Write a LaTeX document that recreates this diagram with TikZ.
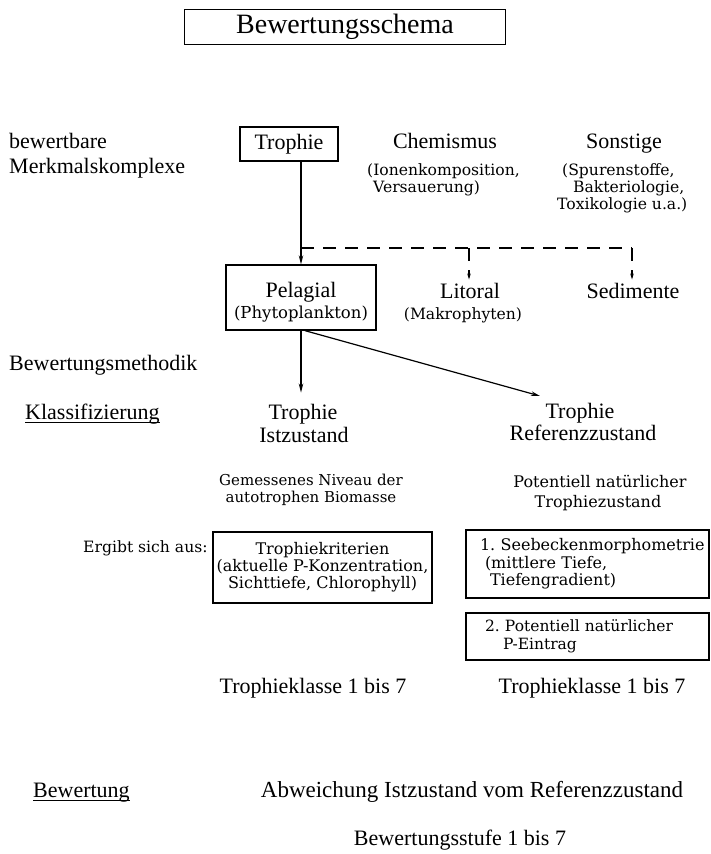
\documentclass[tikz,border=0pt]{standalone}
\usepackage{fontspec}
\setmainfont{Liberation Serif}
\newfontfamily\widefont{DejaVu Serif}
\usetikzlibrary{arrows.meta,calc}
\begin{document}
\begin{tikzpicture}[x=1pt,y=-1pt,
  mainf/.style={font=\fontsize{22}{25}\selectfont},
  widef/.style={font=\widefont\fontsize{15.6}{17}\selectfont},
  txt/.style={inner sep=0pt,anchor=base},
  txtl/.style={inner sep=0pt,anchor=base west},
  boxed/.style={draw,line width=1.3pt},
  arr/.style={line width=1.2pt,-{Stealth[length=9pt,width=4.5pt]}},
  dline/.style={line width=1.1pt,dash pattern=on 13pt off 9pt},
  darr/.style={dline,-{Stealth[length=6pt,width=3.5pt]}},
  uline/.style={line width=0.9pt}]
\useasboundingbox (0,0) rectangle (710,854);
\fill[white] (0,0) rectangle (710,854);

% title
\node[boxed,inner sep=0pt,minimum width=321pt,minimum height=35pt,
      font=\fontsize{28}{30}\selectfont] (title) at (345,27) {Bewertungsschema};

% row: bewertbare Merkmalskomplexe
\node[txtl,mainf] (bew) at (9,148) {bewertbare};
\node[txtl,mainf] (merk) at (9,173) {Merkmalskomplexe};

\node[boxed,inner sep=0pt,minimum width=98pt,minimum height=34pt,mainf] (troph) at (289,144) {Trophie};

\node[txt,mainf] (chem) at (445,148) {Chemismus};
\node[txtl,widef] (ionen) at (367,175) {(Ionenkomposition,};
\node[txtl,widef] (vers) at (373,192) {Versauerung)};

\node[txt,mainf] (sonst) at (624,148) {Sonstige};
\node[txtl,widef] (spur) at (562,175) {(Spurenstoffe,};
\node[txtl,widef] (bakt) at (573,192) {Bakteriologie,};
\node[txtl,widef] (toxi) at (557,209) {Toxikologie u.a.)};

% Pelagial row
\node[boxed,inner sep=0pt,minimum width=150pt,minimum height=65pt,align=center,
      font=\widefont\fontsize{16.5}{21}\selectfont] (pel) at (301,297.5)
      {\rule{0pt}{25pt}{\rmfamily\fontsize{22}{25}\selectfont Pelagial}\\(Phytoplankton)};

\node[txt,mainf] (lit) at (470,298) {Litoral};
\node[txt,widef] (makro) at (463,319) {(Makrophyten)};
\node[txt,mainf] (sed) at (633,298) {Sedimente};

% connectors top
\draw[arr] (troph.south -| pel.north) -- (pel.north);
\coordinate (dl) at (0,248);
\coordinate (d0) at (pel.north |- dl);
\coordinate (d1) at (469,248);
\coordinate (d2) at (632,248);
\draw[dline] (d0) -- (d2);
\draw[darr,shorten >=3pt] (d1) -- (d1 |- lit.north);
\draw[darr,shorten >=3pt] (d2) -- (d2 |- sed.north);

% Bewertungsmethodik
\node[txtl,mainf] (meth) at (9,370) {Bewertungsmethodik};
\node[txtl,mainf] (klass) at (25,419) {Klassifizierung};
\draw[uline] ($(klass.base west)+(0,3)$) -- ($(klass.base east)+(0,3)$);

\node[txt,mainf] (tl1) at (303,419) {Trophie};
\node[txt,mainf] (tl2) at (304,442) {Istzustand};
\node[txt,mainf] (tr1) at (580,418) {Trophie};
\node[txt,mainf] (tr2) at (583,440) {Referenzzustand};

\draw[arr,shorten >=11pt] (pel.south) -- (pel.south |- tl1.north);
\coordinate (reftip) at (540,396);
\draw[arr] ($(pel.south)+(4,0)$) -- (reftip);

\node[txt,widef,font=\widefont\fontsize{15}{17}\selectfont] (gem1) at (311,485) {Gemessenes Niveau der};
\node[txt,widef,font=\widefont\fontsize{15}{17}\selectfont] (gem2) at (311,502) {autotrophen Biomasse};
\node[txt,font=\widefont\fontsize{16}{17}\selectfont] (pot1) at (600,487) {Potentiell natürlicher};
\node[txt,font=\widefont\fontsize{16}{17}\selectfont] (pot2) at (598,507) {Trophiezustand};

\node[txtl,widef] (ergibt) at (83,552) {Ergibt sich aus:};

\node[boxed,inner sep=0pt,minimum width=219pt,minimum height=71pt,align=center,
      font=\widefont\fontsize{16}{17}\selectfont] (krit) at (322.5,567.5)
      {Trophiekriterien\\(aktuelle P-Konzentration,\\Sichttiefe, Chlorophyll)};

\node[boxed,inner ysep=0pt,inner xsep=1.5pt,minimum width=243pt,minimum height=68pt,
      text width=240pt,align=left,
      font=\widefont\fontsize{16}{17.5}\selectfont] (see) at (587.5,564)
      {\hspace*{12.5pt}1.~Seebeckenmorphometrie\\\hspace*{17.5pt}(mittlere Tiefe,\\\hspace*{22.5pt}Tiefengradient)};

\node[boxed,inner ysep=0pt,inner xsep=1.5pt,minimum width=243pt,minimum height=47pt,
      text width=240pt,align=left,
      font=\widefont\fontsize{15.5}{18}\selectfont] (eintr) at (587.5,636.5)
      {\hspace*{17.5pt}2.~Potentiell natürlicher\\\hspace*{35.5pt}P-Eintrag};

\node[txt,mainf] (tk1) at (313,693) {Trophieklasse 1 bis 7};
\node[txt,mainf] (tk2) at (592,693) {Trophieklasse 1 bis 7};

\node[txtl,mainf] (bewert) at (33,797) {Bewertung};
\draw[uline] ($(bewert.base west)+(0,3)$) -- ($(bewert.base east)+(0,3)$);
\node[txt,font=\fontsize{23}{26}\selectfont] (abw) at (472,797) {Abweichung Istzustand vom Referenzzustand};
\node[txt,mainf] (stufe) at (460,845) {Bewertungsstufe 1 bis 7};
\end{tikzpicture}
\end{document}
